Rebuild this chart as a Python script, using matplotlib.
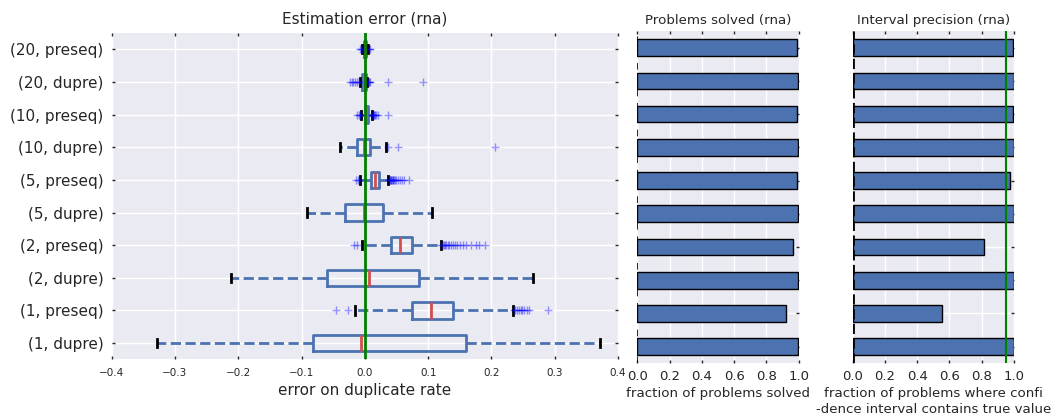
import matplotlib
matplotlib.use('Agg')
import matplotlib.pyplot as plt
import numpy as np

# ---------------- data (bottom to top) ----------------
categories = ['(1, dupre)', '(1, preseq)', '(2, dupre)', '(2, preseq)', '(5, dupre)',
              '(5, preseq)', '(10, dupre)', '(10, preseq)', '(20, dupre)', '(20, preseq)']

whislo = [-0.329, -0.015, -0.212, -0.005, -0.092, -0.007, -0.039, -0.0055, -0.0075, -0.004]
q1 = [-0.082, 0.075, -0.060, 0.0416, -0.031, 0.0105, -0.0117, 0.0, -0.004, -0.0015]
med = [-0.006, 0.105, 0.006, 0.056, -0.001, 0.016, -0.001, 0.0026, -0.001, 0.0003]
q3 = [0.160, 0.140, 0.086, 0.074, 0.028, 0.022, 0.0084, 0.005, 0.0015, 0.002]
whishi = [0.371, 0.234, 0.265, 0.120, 0.106, 0.037, 0.033, 0.0116, 0.004, 0.005]

fliers_1_dupre = []
fliers_1_preseq = [-0.045, -0.027, 0.236, 0.238, 0.240, 0.243, 0.246, 0.249, 0.252,
                   0.256, 0.260, 0.289]
fliers_2_dupre = []
fliers_2_preseq = [-0.017, -0.012, 0.121, 0.123, 0.125, 0.127, 0.129, 0.131, 0.133,
                   0.136, 0.139, 0.142, 0.146, 0.150, 0.155, 0.160, 0.167, 0.175,
                   0.181, 0.190]
fliers_5_dupre = []
fliers_5_preseq = [-0.014, -0.011, -0.009, 0.038, 0.039, 0.040, 0.041, 0.042, 0.043,
                   0.044, 0.045, 0.046, 0.048, 0.050, 0.052, 0.055, 0.058, 0.062, 0.069]
fliers_10_dupre = [0.036, 0.052, 0.206]
fliers_10_preseq = [-0.012, -0.009, -0.008, -0.007, 0.012, 0.013, 0.014, 0.015, 0.016,
                    0.018, 0.020, 0.036]
fliers_20_dupre = [-0.024, -0.021, -0.018, -0.015, -0.012, -0.010, -0.009, 0.005,
                   0.006, 0.007, 0.008, 0.036, 0.092]
fliers_20_preseq = [-0.0075, -0.006, -0.005, 0.006, 0.007, 0.0085]

fliers = [fliers_1_dupre, fliers_1_preseq, fliers_2_dupre, fliers_2_preseq,
          fliers_5_dupre, fliers_5_preseq, fliers_10_dupre, fliers_10_preseq,
          fliers_20_dupre, fliers_20_preseq]

solved = [0.998, 0.919, 0.998, 0.967, 0.998, 0.992, 0.998, 0.992, 0.998, 0.992]
precision = [0.998, 0.554, 0.998, 0.814, 0.998, 0.975, 0.998, 0.992, 0.998, 0.996]
precision_target = 0.95

x_ticks_err = [-0.4, -0.3, -0.2, -0.1, 0.0, 0.1, 0.2, 0.3, 0.4]
x_ticks_frac = [0.0, 0.2, 0.4, 0.6, 0.8, 1.0]

# ---------------- style ----------------
BG = '#EAEAF2'
TXT = '#262626'
BLUE = '#4C72B0'
RED = '#D0504F'

W, H = 1052, 415
fig = plt.figure(figsize=(W / 100, H / 100), dpi=100)


def style_axes(ax, fs_tick_x, fs_tick_y, pad_x):
    ax.set_facecolor(BG)
    for s in ax.spines.values():
        s.set_visible(False)
    ax.grid(True, color='white', linewidth=1.0)
    ax.set_axisbelow(True)
    ax.tick_params(axis='both', direction='in', length=2, width=1, color=TXT,
                   top=True, right=True, left=True, bottom=True)
    ax.tick_params(axis='x', labelsize=fs_tick_x, labelcolor=TXT, pad=pad_x)
    ax.tick_params(axis='y', labelsize=fs_tick_y, labelcolor=TXT, pad=6)


def frac(x0, x1, ytop, ybot):
    return [x0 / W, 1 - ybot / H, (x1 - x0) / W, (ybot - ytop) / H]


# ---------------- left: boxplot ----------------
ax1 = fig.add_axes(frac(111.7, 618.0, 33.0, 359.4))
stats = []
for i, lab in enumerate(categories):
    stats.append(dict(label=lab, whislo=whislo[i], q1=q1[i], med=med[i], q3=q3[i],
                      whishi=whishi[i], fliers=np.array(fliers[i])))
positions = np.arange(1, len(categories) + 1)
ax1.bxp(stats, positions=positions, vert=False, widths=0.5, showfliers=True,
        boxprops=dict(color=BLUE, linewidth=2),
        whiskerprops=dict(color=BLUE, linewidth=2, linestyle='--'),
        capprops=dict(color='black', linewidth=2),
        medianprops=dict(color=RED, linewidth=2),
        flierprops=dict(marker='+', markeredgecolor='blue', markerfacecolor='none',
                        markersize=6, markeredgewidth=1, alpha=0.4, linestyle='none'))
ax1.axvline(0, color='green', linewidth=2, zorder=5)
ax1.set_xlim(-0.4, 0.4)
ax1.set_ylim(0.5, 10.5)
ax1.set_xticks(x_ticks_err)
ax1.set_yticks(positions)
ax1.set_yticklabels(categories)
style_axes(ax1, 7.5, 11, 6)
ax1.set_title('Estimation error (rna)', fontsize=11, color=TXT, pad=7)
ax1.set_xlabel('error on duplicate rate', fontsize=11, color=TXT, labelpad=4)

# ---------------- middle: problems solved ----------------
ax2 = fig.add_axes(frac(637.3, 798.7, 31.0, 363.3))
ypos = np.arange(len(categories))
ax2.barh(ypos, solved, height=0.5, color=BLUE, edgecolor='black', linewidth=1)
ax2.axvline(0, color='black', linestyle=(0, (4, 4)), linewidth=1.2, zorder=3)
ax2.set_xlim(0, 1)
ax2.set_ylim(-0.5, len(categories) - 0.5)
ax2.set_xticks(x_ticks_frac)
ax2.set_yticks(ypos)
ax2.set_yticklabels([])
style_axes(ax2, 9.5, 9.5, 4.5)
ax2.set_title('Problems solved (rna)', fontsize=9.6, color=TXT, pad=5)
ax2.set_xlabel('fraction of problems solved', fontsize=9.6, color=TXT, labelpad=3)

# ---------------- right: interval precision ----------------
ax3 = fig.add_axes(frac(852.7, 1014.0, 31.0, 363.3))
ax3.barh(ypos, precision, height=0.5, color=BLUE, edgecolor='black', linewidth=1)
ax3.axvline(0, color='black', linestyle='--', linewidth=2, zorder=3)
ax3.axvline(precision_target, color='green', linewidth=1.5, zorder=4)
ax3.set_xlim(0, 1)
ax3.set_ylim(-0.5, len(categories) - 0.5)
ax3.set_xticks(x_ticks_frac)
ax3.set_yticks(ypos)
ax3.set_yticklabels([])
style_axes(ax3, 9.5, 9.5, 4.5)
ax3.set_title('Interval precision (rna)', fontsize=9.6, color=TXT, pad=5)
ax3.set_xlabel('fraction of problems where confi\n-dence interval contains true value',
               fontsize=9.6, color=TXT, labelpad=3, linespacing=1.3)

fig.savefig('out.png', dpi=100)
